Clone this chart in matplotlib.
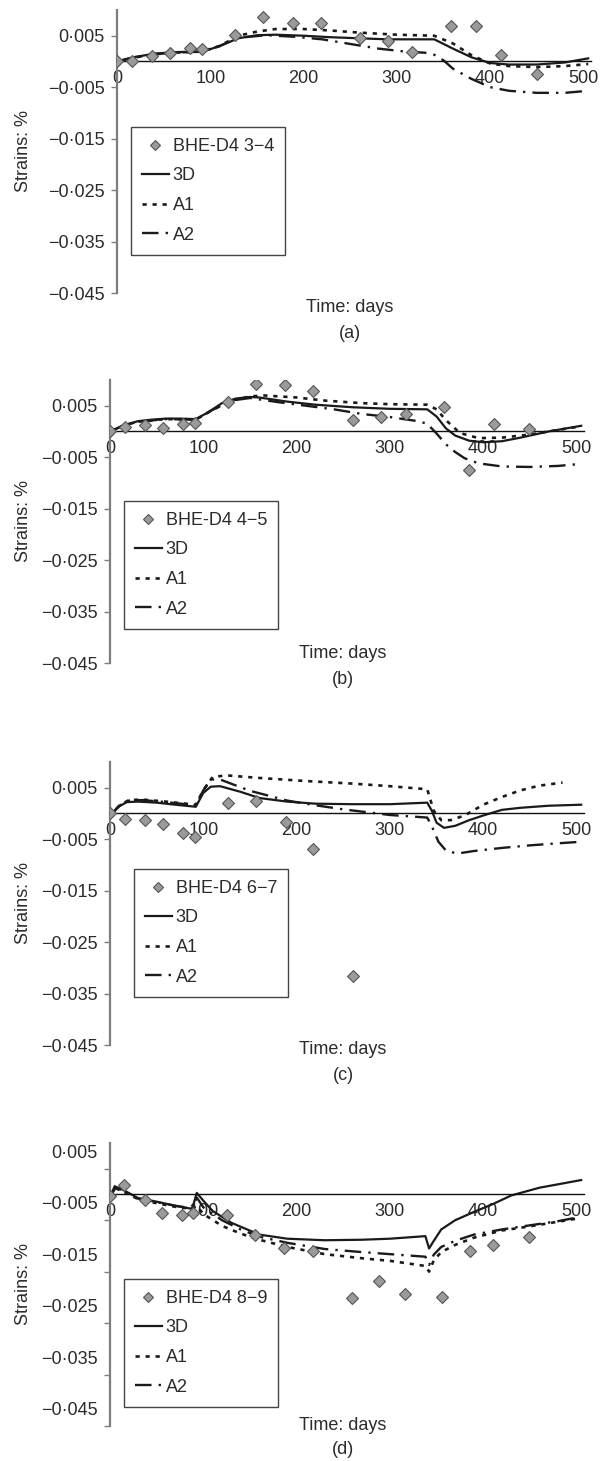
import matplotlib
matplotlib.use('Agg')
import matplotlib.pyplot as plt
from matplotlib.transforms import ScaledTranslation

plt.rcParams['font.family'] = ['Liberation Sans', 'DejaVu Sans']

# ---- data (days, strain %) ----
a_obs_days = [0, 16, 37, 57, 78, 91, 126, 156, 189, 219, 260, 290, 316, 358, 385, 412, 450]
a_obs = [0, 0, 0.001, 0.0016, 0.0026, 0.0024, 0.0052, 0.0086, 0.0075, 0.0075, 0.0045, 0.004, 0.0019, 0.0068, 0.0068, 0.0012, -0.0024]
a_3d_days = [0, 10, 20, 40, 60, 80, 92, 110, 130, 150, 170, 200, 230, 260, 290, 320, 340, 360, 380, 400, 420, 450, 480, 505]
a_3d = [0, 0.0005, 0.0009, 0.0015, 0.0018, 0.0019, 0.0019, 0.003, 0.0045, 0.0051, 0.0052, 0.005, 0.0047, 0.0045, 0.0043, 0.0043, 0.0043, 0.0025, 0.0008, -0.0003, -0.0006, -0.0006, -0.0002, 0.0006]
a_a1_days = [0, 20, 40, 60, 90, 110, 130, 150, 170, 200, 230, 260, 300, 340, 360, 380, 400, 420, 450, 480, 505]
a_a1 = [0, 0.0008, 0.0014, 0.0017, 0.0019, 0.003, 0.005, 0.0058, 0.0063, 0.0063, 0.006, 0.0056, 0.0052, 0.005, 0.0035, 0.0012, -0.0004, -0.0009, -0.0011, -0.0009, -0.0005]
a_a2_days = [0, 20, 40, 60, 90, 110, 130, 160, 190, 220, 250, 280, 310, 330, 340, 350, 360, 380, 400, 420, 450, 480, 505]
a_a2 = [0, 0.0008, 0.0014, 0.0017, 0.0019, 0.003, 0.0046, 0.0051, 0.0048, 0.0043, 0.0034, 0.0025, 0.0019, 0.0017, 0.0013, 0.0002, -0.0014, -0.0034, -0.005, -0.0057, -0.0061, -0.0061, -0.0057]

b_obs_days = [0, 16, 37, 57, 78, 91, 126, 156, 188, 218, 260, 290, 317, 358, 385, 412, 449]
b_obs = [0, 0.0008, 0.0012, 0.0007, 0.0015, 0.0017, 0.0057, 0.0092, 0.0091, 0.0078, 0.0023, 0.0028, 0.0033, 0.0047, -0.0074, 0.0014, 0.0005]
b_3d_days = [0, 15, 30, 45, 60, 75, 92, 105, 120, 135, 150, 160, 190, 220, 260, 300, 340, 350, 360, 370, 385, 400, 420, 440, 470, 505]
b_3d = [0, 0.0012, 0.002, 0.0023, 0.0025, 0.0025, 0.0024, 0.0037, 0.0055, 0.0064, 0.0067, 0.0066, 0.0058, 0.0052, 0.0047, 0.0044, 0.0043, 0.0029, 0.0006, -0.0008, -0.0018, -0.0021, -0.0019, -0.0012, 0.0, 0.0011]
b_a1_days = [0, 15, 30, 60, 92, 110, 130, 150, 165, 200, 230, 270, 300, 340, 350, 360, 375, 395, 420, 450, 480, 505]
b_a1 = [0, 0.0012, 0.0019, 0.0024, 0.0023, 0.0042, 0.006, 0.0068, 0.007, 0.0066, 0.006, 0.0055, 0.0053, 0.0052, 0.0043, 0.0022, -0.0003, -0.0013, -0.0012, -0.0006, 0.0003, 0.001]
b_a2_days = [0, 15, 30, 60, 92, 110, 130, 150, 180, 210, 240, 270, 300, 330, 340, 350, 360, 370, 380, 395, 420, 450, 480, 505]
b_a2 = [0, 0.0012, 0.0019, 0.0024, 0.0023, 0.0042, 0.006, 0.0065, 0.0057, 0.005, 0.0043, 0.0034, 0.0028, 0.002, 0.0015, -0.0004, -0.0025, -0.004, -0.0052, -0.0062, -0.0068, -0.0069, -0.0067, -0.0063]

c_obs_days = [0, 16, 37, 57, 78, 91, 126, 156, 189, 218, 260]
c_obs = [0, -0.0011, -0.0012, -0.0021, -0.0038, -0.0045, 0.0021, 0.0025, -0.0017, -0.0069, -0.0315]
c_3d_days = [0, 8, 18, 30, 50, 70, 92, 100, 108, 118, 140, 160, 190, 220, 260, 300, 340, 345, 350, 358, 370, 385, 400, 420, 440, 470, 505]
c_3d = [-0.0005, 0.0012, 0.0022, 0.0023, 0.0021, 0.0017, 0.0013, 0.004, 0.0052, 0.0053, 0.0042, 0.003, 0.0023, 0.0019, 0.0018, 0.0018, 0.0021, 0.0005, -0.0018, -0.0028, -0.0024, -0.0013, -0.0004, 0.0007, 0.0011, 0.0015, 0.0017]
c_a1_days = [0, 10, 20, 35, 60, 92, 100, 110, 125, 160, 210, 260, 300, 340, 347, 355, 365, 380, 400, 420, 440, 460, 485]
c_a1 = [-0.0005, 0.0015, 0.0026, 0.0027, 0.0023, 0.0017, 0.0045, 0.0071, 0.0074, 0.0069, 0.0063, 0.0058, 0.0053, 0.0047, 0.0005, -0.0013, -0.0013, -0.0004, 0.0017, 0.0032, 0.0045, 0.0054, 0.006]
c_a2_days = [0, 10, 20, 35, 60, 92, 100, 108, 118, 150, 190, 220, 250, 300, 340, 345, 352, 360, 372, 390, 420, 450, 480, 505]
c_a2 = [-0.0005, 0.0015, 0.0025, 0.0026, 0.0022, 0.0016, 0.0045, 0.0066, 0.0066, 0.0044, 0.0025, 0.0016, 0.0008, -0.0003, -0.0008, -0.0025, -0.0055, -0.0072, -0.0078, -0.0073, -0.0067, -0.0062, -0.0058, -0.0055]

d_obs_days = [0, 15, 37, 56, 77, 89, 125, 155, 187, 218, 259, 288, 316, 356, 386, 411, 449]
d_obs = [-0.0003, 0.0018, -0.0011, -0.0036, -0.004, -0.0037, -0.0039, -0.0079, -0.0105, -0.011, -0.0202, -0.0168, -0.0193, -0.0199, -0.011, -0.0098, -0.0082]
d_3d_days = [0, 5, 15, 30, 50, 70, 88, 93, 100, 110, 130, 160, 190, 230, 270, 300, 338, 342, 346, 355, 370, 390, 410, 430, 460, 505]
d_3d = [-0.0005, 0.0016, 0.0008, -0.0007, -0.0014, -0.0022, -0.0028, 0.0003, -0.0012, -0.0032, -0.0055, -0.0078, -0.0086, -0.0089, -0.0088, -0.0086, -0.0081, -0.0105, -0.0093, -0.0068, -0.005, -0.0034, -0.0019, -0.0002, 0.0013, 0.0028]
d_a1_days = [0, 6, 15, 30, 50, 70, 88, 93, 100, 120, 140, 160, 190, 230, 270, 300, 338, 342, 347, 355, 370, 390, 420, 450, 480, 500]
d_a1 = [-0.0005, 0.0012, 0.0005, -0.0009, -0.0017, -0.0024, -0.0028, -0.0022, -0.0038, -0.0061, -0.0076, -0.0088, -0.0102, -0.0116, -0.0124, -0.0129, -0.0139, -0.015, -0.0128, -0.0112, -0.0098, -0.0084, -0.007, -0.0062, -0.0053, -0.0047]
d_a2_days = [0, 6, 15, 30, 50, 70, 88, 93, 100, 120, 140, 160, 190, 230, 270, 300, 338, 342, 347, 355, 370, 390, 420, 450, 480, 500]
d_a2 = [-0.0005, 0.0013, 0.0006, -0.0008, -0.0015, -0.0022, -0.0027, -0.0006, -0.0025, -0.005, -0.0068, -0.0082, -0.0094, -0.0106, -0.0112, -0.0116, -0.0121, -0.0137, -0.0117, -0.0102, -0.009, -0.0078, -0.0068, -0.006, -0.0052, -0.0045]

gauge_names = ['BHE-D4 3\u22124', 'BHE-D4 4\u22125', 'BHE-D4 6\u22127', 'BHE-D4 8\u22129']
panel_tags = ['(a)', '(b)', '(c)', '(d)']
x_ticks = [0, 100, 200, 300, 400, 500]
y_ticks = [0.005, -0.005, -0.015, -0.025, -0.035, -0.045]

W, H = 616, 1461
fig = plt.figure(figsize=(W / 100, H / 100), dpi=100)
TXT = '#2b2b2b'
LINE = '#1a1a1a'
GREY = '#7d7d7d'


def ylab(v):
    s = f'{abs(v):.3f}'.replace('.', '\u00b7')
    return ('\u2212' if v < 0 else '') + s


def draw_panel(i, left, top, obs_x, obs_y, m3_x, m3_y, a1_x, a1_y, a2_x, a2_y,
               leg_xy, xlabel_xy, tag_xy, label_shift=0):
    ax = fig.add_axes([left / W, 1 - (top + 283) / H, 474 / W, 283 / H])
    ax.set_xlim(0, 508)
    ax.set_ylim(-0.045, 0.01)

    ax.plot(m3_x, m3_y, color=LINE, lw=1.6, ls='-', label='3D', zorder=2)
    ax.plot(a1_x, a1_y, color=LINE, lw=1.9, ls=(0, (1.6, 2.2)), label='A1', zorder=2)
    ax.plot(a2_x, a2_y, color=LINE, lw=1.7, ls=(0, (7, 3, 1, 3)), label='A2', zorder=2)
    ax.plot(obs_x, obs_y, ls='none', marker='D', ms=6.5, mfc='#9a9a9a', mec='#555555',
            mew=0.8, zorder=3, label=gauge_names[i])

    for s in ['top', 'right']:
        ax.spines[s].set_visible(False)
    ax.spines['bottom'].set_position(('data', 0))
    ax.spines['bottom'].set_color('#111111')
    ax.spines['bottom'].set_linewidth(1.0)
    ax.spines['left'].set_color(GREY)
    ax.spines['left'].set_linewidth(1.6)

    ax.set_xticks(x_ticks)
    ax.set_xticklabels([str(t) for t in x_ticks])
    ax.set_yticks(y_ticks)
    ax.set_yticklabels([ylab(v) for v in y_ticks])
    ax.tick_params(axis='x', length=0, pad=6, labelsize=13, labelcolor=TXT)
    ax.tick_params(axis='y', length=4, width=1, color=GREY, pad=5, labelsize=13,
                   labelcolor=TXT, direction='out')
    if label_shift:
        for lbl in ax.get_yticklabels():
            lbl.set_transform(lbl.get_transform() +
                              ScaledTranslation(0, label_shift / 100, fig.dpi_scale_trans))

    h, l = ax.get_legend_handles_labels()
    order = [3, 0, 1, 2]
    leg = ax.legend([h[k] for k in order], [l[k] for k in order], loc='upper left',
                    bbox_to_anchor=(leg_xy[0] / W, 1 - leg_xy[1] / H),
                    bbox_transform=fig.transFigure, frameon=True, fancybox=False,
                    edgecolor='#444444', framealpha=1, borderpad=0.6, labelspacing=0.7,
                    handlelength=1.5, handletextpad=0.2, borderaxespad=0, fontsize=13,
                    markerscale=0.8)
    leg.get_frame().set_linewidth(1.0)
    for t in leg.get_texts():
        t.set_color(TXT)

    fig.text(24 / W, 1 - (top + 141) / H, 'Strains: %', rotation=90, ha='center',
             va='center', fontsize=13, color=TXT)
    fig.text(xlabel_xy[0] / W, 1 - xlabel_xy[1] / H, 'Time: days', ha='center',
             va='center', fontsize=13, color=TXT)
    fig.text(tag_xy[0] / W, 1 - tag_xy[1] / H, panel_tags[i], ha='center',
             va='center', fontsize=13, color=TXT)
    return ax


draw_panel(0, 117, 10, a_obs_days, a_obs, a_3d_days, a_3d, a_a1_days, a_a1, a_a2_days, a_a2,
           (131, 127), (350, 308), (350, 333))
draw_panel(1, 110, 380, b_obs_days, b_obs, b_3d_days, b_3d, b_a1_days, b_a1, b_a2_days, b_a2,
           (124, 501), (343, 653), (343, 679))
draw_panel(2, 110, 762, c_obs_days, c_obs, c_3d_days, c_3d, c_a1_days, c_a1, c_a2_days, c_a2,
           (134, 869), (343, 1049), (343, 1075))
draw_panel(3, 110, 1143, d_obs_days, d_obs, d_3d_days, d_3d, d_a1_days, d_a1, d_a2_days, d_a2,
           (124, 1279), (343, 1425), (343, 1450), label_shift=17.5)

fig.savefig('out.png', dpi=100)
